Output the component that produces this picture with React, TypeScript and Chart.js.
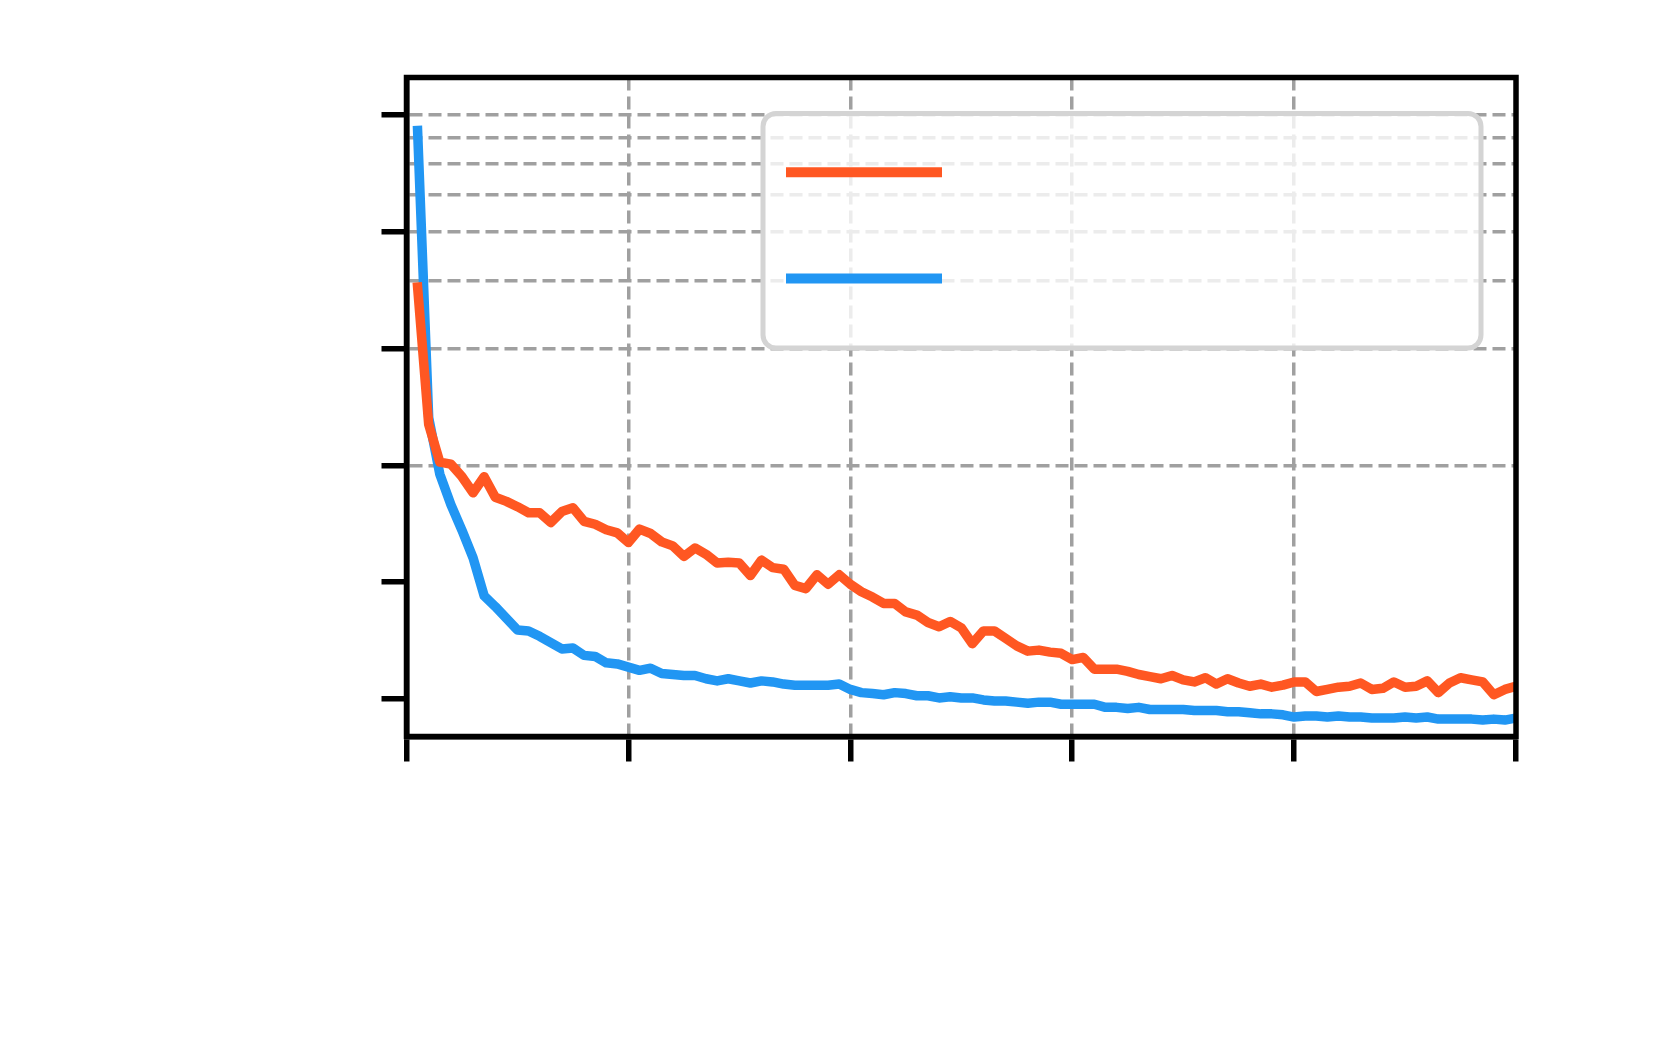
import React, { useEffect, useRef } from "react";
import { Chart, registerables } from "chart.js";

Chart.register(...registerables);

// Epoch indices (x positions of the points)
const epochs = [
  1, 2, 3, 4, 5, 6, 7, 8, 9, 10, 11, 12, 13, 14, 15, 16, 17, 18, 19, 20,
  21, 22, 23, 24, 25, 26, 27, 28, 29, 30, 31, 32, 33, 34, 35, 36, 37, 38, 39, 40,
  41, 42, 43, 44, 45, 46, 47, 48, 49, 50, 51, 52, 53, 54, 55, 56, 57, 58, 59, 60,
  61, 62, 63, 64, 65, 66, 67, 68, 69, 70, 71, 72, 73, 74, 75, 76, 77, 78, 79, 80,
  81, 82, 83, 84, 85, 86, 87, 88, 89, 90, 91, 92, 93, 94, 95, 96, 97, 98, 99, 100,
];

// Orange series (log-scale values)
const orangeValues = [
  11.53, 5.1, 4.08, 4.03, 3.74, 3.4, 3.74, 3.31, 3.23, 3.13,
  3.02, 3.02, 2.85, 3.04, 3.11, 2.87, 2.82, 2.73, 2.68, 2.53,
  2.74, 2.67, 2.54, 2.48, 2.33, 2.45, 2.36, 2.24, 2.25, 2.24,
  2.08, 2.28, 2.18, 2.16, 1.962, 1.925, 2.09, 1.975, 2.09, 1.975,
  1.89, 1.831, 1.763, 1.763, 1.676, 1.645, 1.574, 1.535, 1.584, 1.525,
  1.388, 1.497, 1.497, 1.432, 1.37, 1.328, 1.336, 1.32, 1.311, 1.263,
  1.279, 1.193, 1.193, 1.193, 1.178, 1.156, 1.141, 1.127, 1.149, 1.12,
  1.106, 1.134, 1.092, 1.127, 1.099, 1.078, 1.092, 1.072, 1.085, 1.106,
  1.106, 1.045, 1.058, 1.072, 1.078, 1.099, 1.058, 1.065, 1.106, 1.072,
  1.078, 1.113, 1.038, 1.099, 1.134, 1.12, 1.106, 1.025, 1.058, 1.078,
];

// Blue series (log-scale values)
const blueValues = [
  29.2, 5.31, 3.8, 3.17, 2.72, 2.31, 1.843, 1.73, 1.614, 1.506,
  1.497, 1.45, 1.396, 1.345, 1.353, 1.295, 1.287, 1.239, 1.231, 1.208,
  1.185, 1.2, 1.163, 1.156, 1.149, 1.149, 1.127, 1.113, 1.127, 1.113,
  1.099, 1.113, 1.106, 1.092, 1.085, 1.085, 1.085, 1.085, 1.092, 1.058,
  1.038, 1.032, 1.025, 1.038, 1.032, 1.019, 1.019, 1.006, 1.013, 1.006,
  1.006, 0.994, 0.988, 0.988, 0.981, 0.975, 0.981, 0.981, 0.969, 0.969,
  0.969, 0.969, 0.951, 0.951, 0.945, 0.951, 0.939, 0.939, 0.939, 0.939,
  0.933, 0.933, 0.933, 0.927, 0.927, 0.921, 0.915, 0.915, 0.91, 0.898,
  0.904, 0.904, 0.898, 0.904, 0.898, 0.898, 0.893, 0.893, 0.893, 0.898,
  0.893, 0.898, 0.887, 0.887, 0.887, 0.887, 0.882, 0.887, 0.882, 0.893,
];

const xTicks = [0, 20, 40, 60, 80, 100];
const yMajorTicks = [1, 2, 4, 8, 16, 32];
const yGridValues = [4, 8, 12, 16, 20, 24, 28, 32];
const yTickValues = [1, 2, 4, 8, 12, 16, 20, 24, 28, 32];

const ORANGE = "#FF5722";
const BLUE = "#2196F3";
const GRID = "#a0a0a0";
const NONE = "rgba(0,0,0,0)";

const framePlugin = {
  id: "frame",
  afterDatasetsDraw(chart: any) {
    const { ctx, chartArea } = chart;
    ctx.save();
    ctx.lineWidth = 5.5;
    ctx.strokeStyle = "#000";
    ctx.setLineDash([]);
    ctx.strokeRect(
      chartArea.left,
      chartArea.top,
      chartArea.right - chartArea.left,
      chartArea.bottom - chartArea.top
    );
    ctx.restore();
  },
};

const legendBoxPlugin = {
  id: "legendBox",
  afterDraw(chart: any) {
    const { ctx } = chart;
    const x = 763, y = 113.5, w = 718, h = 234.5, r = 13;
    ctx.save();
    ctx.beginPath();
    ctx.moveTo(x + r, y);
    ctx.lineTo(x + w - r, y);
    ctx.arcTo(x + w, y, x + w, y + r, r);
    ctx.lineTo(x + w, y + h - r);
    ctx.arcTo(x + w, y + h, x + w - r, y + h, r);
    ctx.lineTo(x + r, y + h);
    ctx.arcTo(x, y + h, x, y + h - r, r);
    ctx.lineTo(x, y + r);
    ctx.arcTo(x, y, x + r, y, r);
    ctx.closePath();
    ctx.fillStyle = "rgba(255,255,255,0.8)";
    ctx.fill();
    ctx.lineWidth = 5;
    ctx.strokeStyle = "#d4d4d4";
    ctx.stroke();
    const rows = [172.3, 278.5];
    chart.data.datasets.forEach((ds: any, i: number) => {
      ctx.beginPath();
      ctx.lineWidth = 10;
      ctx.lineCap = "butt";
      ctx.strokeStyle = ds.borderColor;
      ctx.moveTo(786, rows[i]);
      ctx.lineTo(942, rows[i]);
      ctx.stroke();
    });
    ctx.restore();
  },
};

export default function App() {
  const canvasRef = useRef<HTMLCanvasElement | null>(null);

  useEffect(() => {
    if (!canvasRef.current) return;
    const chart = new Chart(canvasRef.current, {
      type: "line",
      data: {
        datasets: [
          {
            label: "orange",
            data: epochs.map((e, i) => ({ x: e, y: orangeValues[i] })),
            borderColor: ORANGE,
            backgroundColor: ORANGE,
            borderWidth: 9.5,
            pointRadius: 0,
            tension: 0,
            borderJoinStyle: "round",
            borderCapStyle: "square",
          },
          {
            label: "blue",
            data: epochs.map((e, i) => ({ x: e, y: blueValues[i] })),
            borderColor: BLUE,
            backgroundColor: BLUE,
            borderWidth: 9.5,
            pointRadius: 0,
            tension: 0,
            borderJoinStyle: "round",
            borderCapStyle: "square",
          },
        ],
      },
      options: {
        responsive: false,
        animation: false,
        events: [],
        layout: { padding: { left: 376.5, top: 77.5, right: 148, bottom: 273.5 } },
        plugins: { legend: { display: false }, tooltip: { enabled: false } },
        scales: {
          x: {
            type: "linear",
            min: 0,
            max: 100,
            afterBuildTicks: (s: any) => {
              s.ticks = xTicks.map((v) => ({ value: v }));
            },
            afterFit: (s: any) => {
              s.height = 30;
            },
            ticks: { display: false, autoSkip: false },
            grid: {
              color: GRID,
              lineWidth: 3.5,
              drawTicks: true,
              tickColor: "#000",
              tickWidth: 5.5,
              tickLength: 25,
            },
            border: { display: true, color: "#000", width: 5.5, dash: [13, 6] },
          },
          y: {
            type: "logarithmic",
            min: 0.8,
            max: 40,
            afterBuildTicks: (s: any) => {
              s.ticks = yTickValues.map((v) => ({ value: v }));
            },
            afterFit: (s: any) => {
              s.width = 30;
            },
            ticks: { display: false, autoSkip: false },
            grid: {
              color: (c: any) =>
                c.tick && yGridValues.includes(c.tick.value) ? GRID : NONE,
              lineWidth: 3.5,
              drawTicks: true,
              tickColor: (c: any) =>
                c.tick && yMajorTicks.includes(c.tick.value) ? "#000" : NONE,
              tickWidth: 5.5,
              tickLength: 25,
            },
            border: { display: true, color: "#000", width: 5.5, dash: [13, 6] },
          },
        },
      } as any,
      plugins: [framePlugin, legendBoxPlugin],
    });
    return () => chart.destroy();
  }, []);

  return (
    <div style={{ position: "absolute", left: 0, top: 0, width: 1664, height: 1040, background: "#fff" }}>
      <canvas ref={canvasRef} width={1664} height={1040} style={{ display: "block" }} />
    </div>
  );
}
